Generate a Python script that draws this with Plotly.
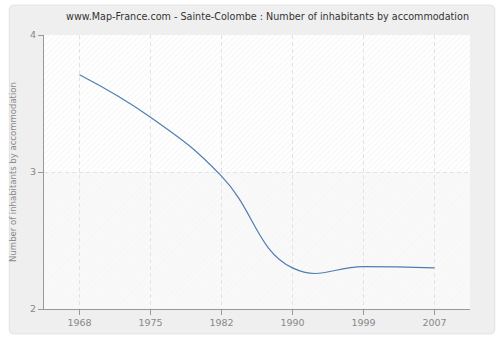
import plotly.graph_objects as go

years = ["1968", "1975", "1982", "1990", "1999", "2007"]
inhabitants = [3.71, 3.40, 2.97, 2.30, 2.31, 2.30]
y_ticks = [2, 3, 4]

positions = list(range(len(years)))
x_lo, x_hi = -0.5, len(years) - 0.5

fig = go.Figure()

# diagonal hatching on the two horizontal bands (transparent ground so the grid stays visible)
bands = [(3, 4, "rgba(215,215,215,0.45)"), (2, 3, "rgba(225,225,225,0.30)")]
for lo, hi, fg in bands:
    fig.add_trace(go.Scatter(
        x=[x_lo, x_hi, x_hi, x_lo, x_lo], y=[lo, lo, hi, hi, lo],
        mode="none", fill="toself", fillcolor="rgba(0,0,0,0)",
        fillpattern=dict(shape="/", fgcolor=fg, bgcolor="rgba(0,0,0,0)", size=4, solidity=0.25),
        hoverinfo="skip", showlegend=False,
    ))

fig.add_trace(go.Scatter(
    x=positions, y=inhabitants, mode="lines",
    line=dict(color="#4f7db3", width=1.2, shape="spline", smoothing=1.3),
    showlegend=False,
))

W, H = 500, 340
l, r, t, b = 40, 30, 35, 30
pw, ph = W - l - r, H - t - b


def px(x):
    return (x - l) / pw


def py(y):
    return (H - b - y) / ph


x0, x1, y0, y1, rad = 5, 495, 5, 335, 5
panel = (f"M {px(x0+rad)},{py(y0)} L {px(x1-rad)},{py(y0)} "
         f"Q {px(x1)},{py(y0)} {px(x1)},{py(y0+rad)} L {px(x1)},{py(y1-rad)} "
         f"Q {px(x1)},{py(y1)} {px(x1-rad)},{py(y1)} L {px(x0+rad)},{py(y1)} "
         f"Q {px(x0)},{py(y1)} {px(x0)},{py(y1-rad)} L {px(x0)},{py(y0+rad)} "
         f"Q {px(x0)},{py(y0)} {px(x0+rad)},{py(y0)} Z")

shapes = [
    dict(type="path", xref="paper", yref="paper", layer="below",
         path=panel, fillcolor="#efefef", line=dict(color="#e2e2e2", width=1)),
    dict(type="rect", xref="x", yref="y", layer="below", x0=x_lo, x1=x_hi, y0=3, y1=4,
         fillcolor="#ffffff", line=dict(width=0)),
    dict(type="rect", xref="x", yref="y", layer="below", x0=x_lo, x1=x_hi, y0=2, y1=3,
         fillcolor="#f9f9f9", line=dict(width=0)),
]

fig.update_layout(
    width=W, height=H,
    margin=dict(l=l, r=r, t=t, b=b),
    paper_bgcolor="white", plot_bgcolor="#fbfbfb",
    title=dict(text="www.Map-France.com - Sainte-Colombe : Number of inhabitants by accommodation",
               x=0.535, xanchor="center", y=0.95, yanchor="middle",
               font=dict(family="DejaVu Sans", size=9.6, color="#333333")),
    font=dict(family="DejaVu Sans", size=9.5, color="#888888"),
    xaxis=dict(range=[x_lo, x_hi], tickvals=positions, ticktext=years,
               showgrid=True, gridcolor="#e3e3e3", griddash="4px,3px", gridwidth=1,
               ticks="outside", ticklen=5, tickcolor="#999999",
               showline=True, linecolor="#999999", linewidth=1, zeroline=False,
               tickfont=dict(size=9.5, color="#888888")),
    yaxis=dict(range=[2, 4], tickvals=y_ticks, showgrid=True, gridcolor="#e3e3e3",
               griddash="4px,3px", ticks="outside", ticklen=5, tickcolor="#999999",
               showline=True, linecolor="#999999", linewidth=1, zeroline=False,
               title=dict(text="Number of inhabitants by accommodation", standoff=12,
                          font=dict(size=8.5, color="#888888")),
               tickfont=dict(size=9.5, color="#888888")),
    shapes=shapes,
)

fig.write_html("out.html")
